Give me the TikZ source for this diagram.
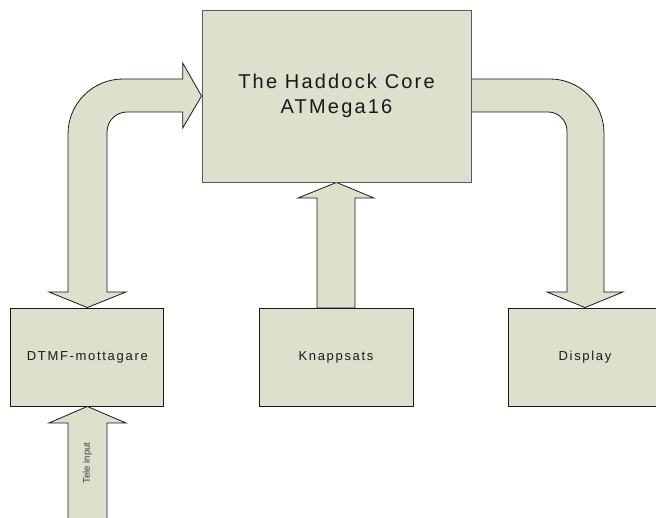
\documentclass[tikz,border=0pt]{standalone}
\usepackage{fontspec}
\setmainfont{Liberation Sans}
\newfontfamily\spacedfont[LetterSpace=11]{Liberation Sans}
\newfontfamily\smallspaced[LetterSpace=13]{Liberation Sans}
\usetikzlibrary{backgrounds}
\definecolor{boxfill}{RGB}{221,224,204}
\definecolor{ink}{RGB}{25,25,25}
\begin{document}
\begin{tikzpicture}[x=1pt,y=-1pt,
  blk/.style={draw=ink, line width=0.9pt, fill=boxfill, inner sep=0pt, text=ink},
  smalltext/.style={font=\smallspaced\fontsize{13}{15}\selectfont},
  barrow/.style={draw=ink, line width=0.8pt, fill=boxfill, line join=miter}]
\useasboundingbox (0,0) rectangle (656,518);
\node[blk, draw=gray!70!black, minimum width=269pt, minimum height=172pt, align=center,
      font=\spacedfont\fontsize{20}{25}\selectfont] (core) at (336.5,96) {The Haddock Core\\ATMega16};
\node[blk, smalltext, minimum width=153pt, minimum height=98pt] (dtmf) at (87.3,357) {DTMF-mottagare};
\node[blk, smalltext, minimum width=154pt, minimum height=98pt] (knapp) at (336,357) {Knappsats};
\node[blk, smalltext, minimum width=154pt, minimum height=98pt] (disp) at (585,357) {Display};
\node[rotate=90, font=\fontsize{9.5}{11}\selectfont, text=ink!85] (tele) at (87.5,463) {Tele input};
\begin{scope}[on background layer]
  % DTMF <-> core
  \draw[barrow] (core.west) -- (182.7,128) -- (182.7,112) -- (127,112)
    arc[start angle=270,end angle=180,radius=20] -- (107,292) -- (126,292) -- (dtmf.north)
    -- (49,292) -- (68,292) -- (68,134) arc[start angle=180,end angle=270,radius=55]
    -- (182.7,79) -- (182.7,63) -- cycle;
  % core -> display
  \draw[barrow] (471,79) -- (550,79) arc[start angle=270,end angle=360,radius=54]
    -- (604,292) -- (623,292) -- (disp.north) -- (547,292) -- (567,292) -- (567,131)
    arc[start angle=0,end angle=-90,radius=19] -- (471,112) -- cycle;
  % knappsats -> core
  \draw[barrow] (317,308) -- (317,198) -- (298,198) -- (core.south) -- (374,198)
    -- (355,198) -- (355,308) -- cycle;
  % tele input -> DTMF
  \draw[barrow] (68,522) -- (68,423) -- (49,423) -- (dtmf.south) -- (126,423)
    -- (107,423) -- (107,522);
\end{scope}
\end{tikzpicture}
\end{document}
